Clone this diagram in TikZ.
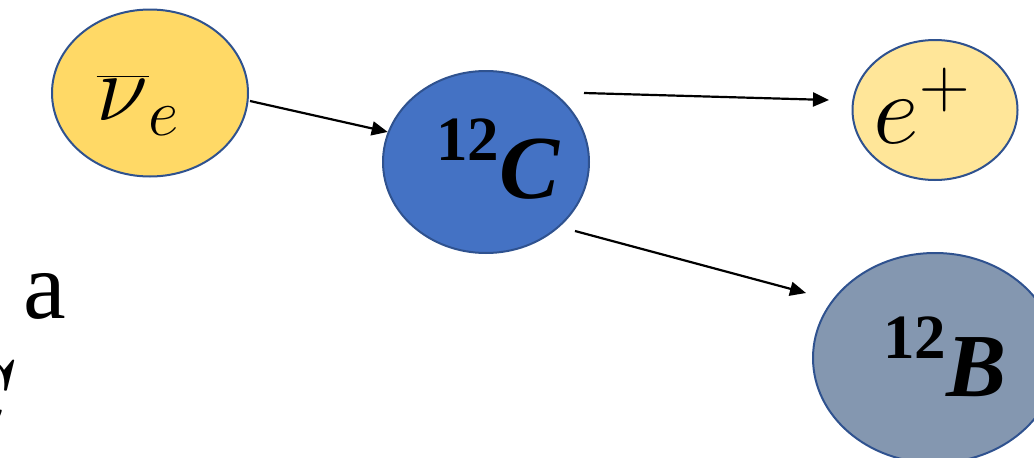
\RequirePackage{fix-cm}
\documentclass[tikz,border=0pt]{standalone}
\usepackage{amsmath}
\usepackage{fontspec}
\newfontfamily\serifl{Liberation Serif}
\usetikzlibrary{shapes.geometric,arrows.meta}
\definecolor{gold}{HTML}{FFD966}
\definecolor{lgold}{HTML}{FFE699}
\definecolor{oblue}{HTML}{4472C4}
\definecolor{gblue}{HTML}{8497B0}
\definecolor{edgeblue}{HTML}{2F528F}
\tikzset{
  particle/.style={ellipse, draw=edgeblue, line width=2pt, inner sep=0pt},
  lbl/.style={inner sep=0pt, text=black},
  flow/.style={line width=2.2pt, -{Triangle[length=16pt,width=14pt]}},
}
\newcommand{\nucl}[1]{\serifl\bfseries{\fontsize{63}{63}\selectfont 12}\raisebox{-38pt}{\fontsize{90}{90}\selectfont\itshape #1}}
\begin{document}
\begin{tikzpicture}[x=1pt,y=-1pt]
\useasboundingbox (0,0) rectangle (1034,458);
\node[particle, fill=gold, minimum width=196pt, minimum height=167pt] (nu) at (150,93) {};
\node[particle, fill=oblue, minimum width=206pt, minimum height=182pt] (c12) at (486,162) {};
\node[particle, fill=lgold, minimum width=165pt, minimum height=140pt] (ep) at (935,110) {};
\node[particle, fill=gblue, minimum width=244pt, minimum height=210pt] (b12) at (935,358) {};
\node[lbl, anchor=center] (nut) at (138,105) {\fontsize{95}{95}\selectfont $\overline{\nu}_e$};
\node[lbl, anchor=base west] (ct) at (436,160) {\nucl{C}};
\node[lbl, anchor=center] (ept) at (922,106) {\fontsize{100}{100}\selectfont $e^{+}$};
\node[lbl, anchor=base west] (bt) at (883,358) {\nucl{B}};
\node[lbl, anchor=base west] (ta) at (23,318) {\serifl\fontsize{96}{96}\selectfont a};
\node[lbl, anchor=base east] (tc) at (18,437) {\fontsize{110}{110}\selectfont $C$};
\coordinate (a1s) at (250,101);
\coordinate (a2s) at (584,93);
\coordinate (a2e) at (829,100);
\coordinate (a3s) at (575,231);
\coordinate (a3e) at (806,293);
\draw[flow] (a1s) -- (c12.163);
\draw[flow] (a2s) -- (a2e);
\draw[flow] (a3s) -- (a3e);
\end{tikzpicture}
\end{document}
